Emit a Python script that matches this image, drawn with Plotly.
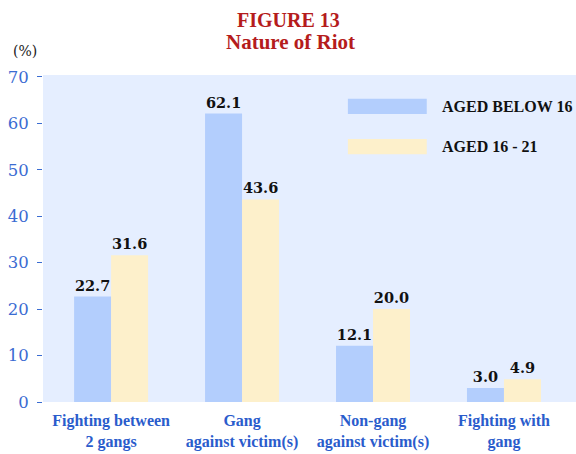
import plotly.graph_objects as go

categories = ["Fighting between<br>2 gangs", "Gang<br>against victim(s)",
              "Non-gang<br>against victim(s)", "Fighting with<br>gang"]
below16 = [22.7, 62.1, 12.1, 3.0]
aged16_21 = [31.6, 43.6, 20.0, 4.9]
series_names = ["AGED BELOW 16", "AGED 16 - 21"]
y_ticks = [0, 10, 20, 30, 40, 50, 60, 70]

BLUE = "#b3cefd"
YELLOW = "#fdf0cb"
BG = "#e5eeff"
TICK_BLUE = "#3a6cd2"
LABEL_BLUE = "#2a5ccc"
RED = "#b51c1c"

x = list(range(len(categories)))

fig = go.Figure()
for vals, color, name in [(below16, BLUE, series_names[0]), (aged16_21, YELLOW, series_names[1])]:
    fig.add_trace(go.Bar(
        x=x, y=vals, name=name, marker=dict(color=color, line=dict(width=0)),
        text=[f"{v:.1f}" for v in vals], textposition="outside",
        textfont=dict(family="DejaVu Serif", size=14.5, color="#111111", weight="bold"),
        cliponaxis=False, showlegend=False,
    ))

# legend swatches and labels
leg_items = [(series_names[0], BLUE, 0.881, 0.927), (series_names[1], YELLOW, 0.758, 0.804)]
for name, color, y0, y1 in leg_items:
    fig.add_shape(type="rect", xref="paper", yref="paper", x0=0.572, x1=0.720,
                  y0=y0, y1=y1, fillcolor=color, line=dict(width=0))
    fig.add_annotation(xref="paper", yref="paper", x=0.745, y=(y0 + y1) / 2,
                       text=name, showarrow=False, xanchor="left", yanchor="middle",
                       font=dict(family="Liberation Serif", size=16, color="#111111", weight="bold"))

# titles
fig.add_annotation(xref="paper", yref="paper", x=0.46, y=1.167, text="FIGURE 13",
                   showarrow=False, xanchor="center", yanchor="middle",
                   font=dict(family="Liberation Serif", size=20, color=RED, weight="bold"))
fig.add_annotation(xref="paper", yref="paper", x=0.465, y=1.100, text="Nature of Riot",
                   showarrow=False, xanchor="center", yanchor="middle",
                   font=dict(family="Liberation Serif", size=21, color=RED, weight="bold"))
fig.add_annotation(xref="paper", yref="paper", x=-0.060, y=1.073, text="(%)",
                   showarrow=False, xanchor="left", yanchor="middle",
                   font=dict(family="DejaVu Serif", size=14, color="#222222"))

fig.update_layout(
    width=576, height=454,
    margin=dict(l=43, r=0, t=75, b=52),
    paper_bgcolor="white", plot_bgcolor=BG,
    barmode="group", bargap=0.435, bargroupgap=0,
    xaxis=dict(range=[-0.52, 3.55], tickmode="array", tickvals=x, ticktext=categories,
               showgrid=False, zeroline=False, showline=False, ticks="",
               ticklabelstandoff=7,
               tickfont=dict(family="Liberation Serif", size=16, color=LABEL_BLUE, weight="bold")),
    yaxis=dict(range=[0, 70.4], tickmode="array", tickvals=y_ticks,
               ticktext=[str(v) for v in y_ticks],
               showgrid=False, zeroline=False, showline=False,
               ticks="outside", ticklen=5, tickwidth=1, tickcolor=TICK_BLUE,
               ticklabelstandoff=5,
               tickfont=dict(family="DejaVu Serif", size=16.5, color=TICK_BLUE)),
)

fig.write_html("out.html", config={"displayModeBar": False},
               post_script="document.body.style.margin='0';document.body.style.overflow='hidden';")
